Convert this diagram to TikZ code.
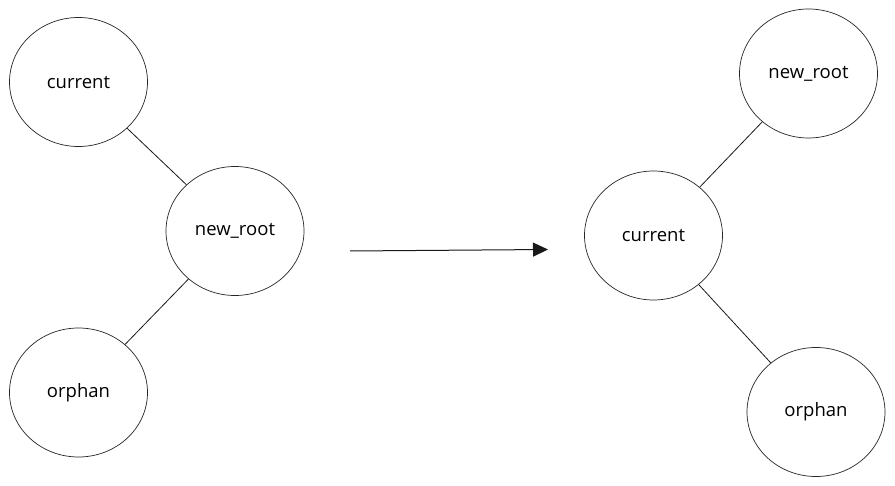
\documentclass[tikz,border=0pt]{standalone}
\usepackage{fontspec}
\setmainfont{Open Sans}
\usetikzlibrary{arrows.meta,shapes.geometric}
\begin{document}
\begin{tikzpicture}[x=1pt,y=-1pt,
  vnode/.style={draw=black!85,line width=0.7pt,ellipse,minimum width=138pt,minimum height=129pt,inner sep=0pt,font=\fontsize{18.5}{20}\selectfont},
  edge/.style={draw=black!90,line width=0.8pt},
  flow/.style={draw=black!90,line width=1pt,-{Triangle[length=15pt,width=14pt]}}]
\useasboundingbox (0,0) rectangle (895,486);
\fill[white] (0,0) rectangle (895,486);
% left tree
\node[vnode] (lc) at (78.5,82) {current};
\node[vnode] (lr) at (235,231) {new\_root};
\node[vnode] (lo) at (78.5,392.5) {orphan};
\draw[edge] (lc) -- (lr);
\draw[edge] (lr) -- (lo);
% arrow
\coordinate (a1) at (350,251);
\coordinate (a2) at (548,249.5);
\draw[flow] (a1) -- (a2);
% right tree
\node[vnode] (rc) at (653.5,235.5) {current};
\node[vnode] (rr) at (808.5,73.5) {new\_root};
\node[vnode] (ro) at (816,412) {orphan};
\draw[edge] (rc) -- (rr);
\draw[edge] (rc) -- (ro);
\end{tikzpicture}
\end{document}
